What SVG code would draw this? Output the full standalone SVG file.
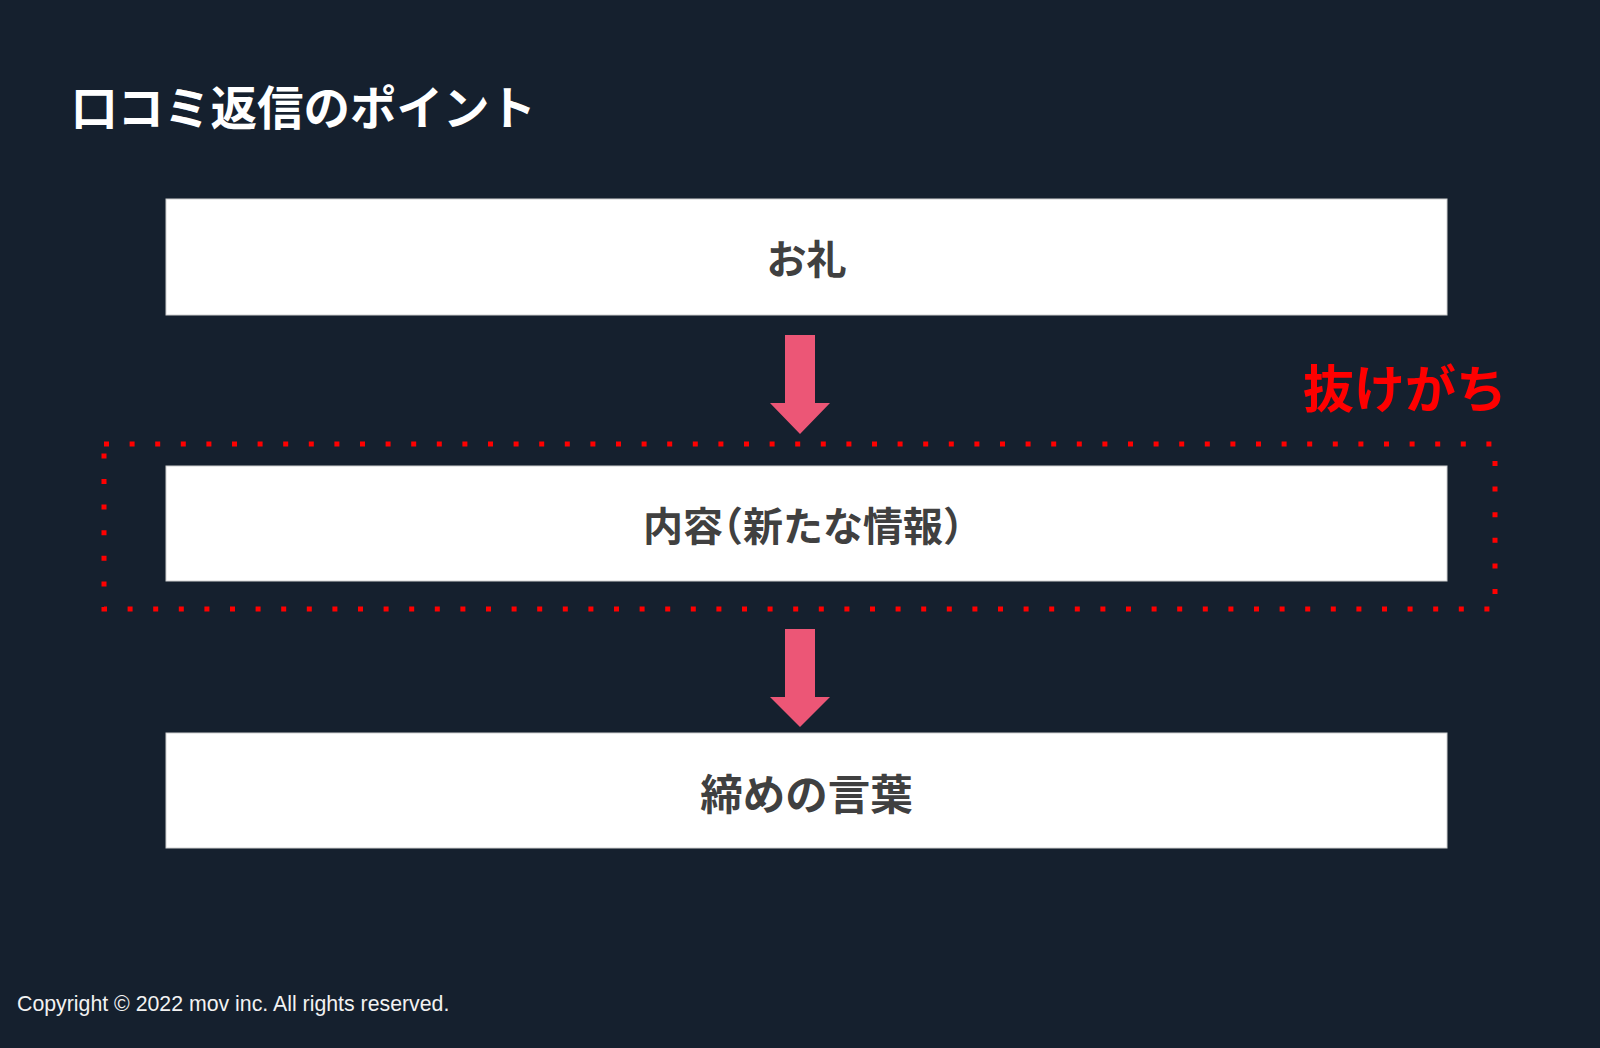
<svg xmlns="http://www.w3.org/2000/svg" width="1600" height="1048" viewBox="0 0 1600 1048">
<style>
.box{fill:#ffffff;stroke:#d0d0d0;stroke-width:1}
.lbl{font-family:"Noto Sans CJK JP","Noto Sans",sans-serif;font-weight:700;font-size:40px;fill:#404040;text-anchor:middle;dominant-baseline:central}
.arrow{fill:#EC5676}
.half{font-feature-settings:"halt" 1}
</style>
<rect width="1600" height="1048" fill="#15202E"/>
<text x="71" y="125" font-family="'Noto Sans CJK JP','Noto Sans',sans-serif" font-weight="700" font-size="46.5" fill="#ffffff">口コミ返信のポイント</text>
<g id="node-orei">
<rect class="box" x="166" y="199" width="1281" height="116"/>
<text class="lbl" x="806.5" y="257">お礼</text>
</g>
<g id="node-naiyou">
<rect class="box" x="166" y="466" width="1281" height="115"/>
<text class="lbl" x="643" y="524" style="text-anchor:start">内容<tspan class="half">（</tspan>新たな情報）</text>
</g>
<g id="node-shime">
<rect class="box" x="166" y="733" width="1281" height="115"/>
<text class="lbl" x="806.5" y="791" style="font-size:42.5px">締めの言葉</text>
</g>
<g id="group-nukegachi">
<rect x="104" y="444" width="1391" height="165" fill="none" stroke="#FF0000" stroke-width="5" stroke-dasharray="5 20.6"/>
<text x="1303" y="408" font-family="'Noto Sans CJK JP','Noto Sans',sans-serif" font-weight="700" font-size="51" fill="#FF0000">抜けがち</text>
</g>
<g id="connectors">
<polygon class="arrow" points="785,335 815,335 815,403 830,403 800,434 770,403 785,403"/>
<polygon class="arrow" points="785,629 815,629 815,697 830,697 800,727 770,697 785,697"/>
</g>
<text x="17" y="1011" font-family="'Liberation Sans',Arial,sans-serif" font-size="21.3" fill="#f2f2f2">Copyright © 2022 mov inc. All rights reserved.</text>
</svg>
